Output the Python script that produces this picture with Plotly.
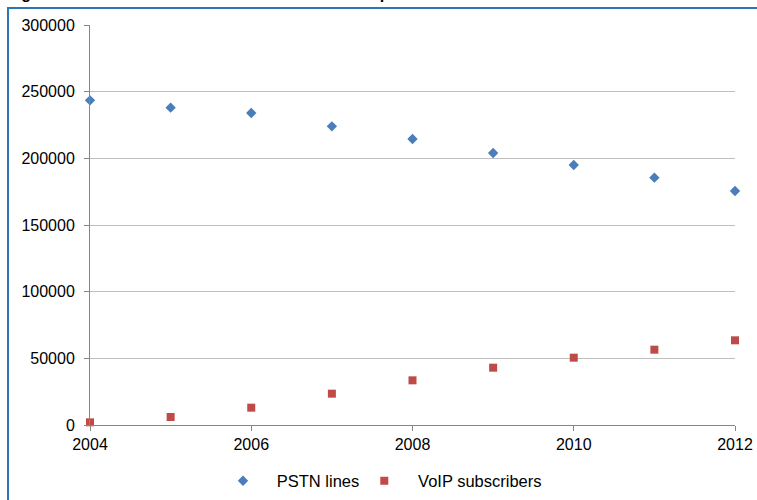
import plotly.graph_objects as go

years = [2004, 2005, 2006, 2007, 2008, 2009, 2010, 2011, 2012]
pstn_lines = [243500, 238000, 234000, 224000, 214500, 204000, 195000, 185500, 175500]
voip_subscribers = [2000, 6000, 13000, 23500, 33500, 43000, 50500, 56500, 63500]
y_ticks = [0, 50000, 100000, 150000, 200000, 250000, 300000]
x_ticks = [2004, 2006, 2008, 2010, 2012]
series_names = ["PSTN lines", "VoIP subscribers"]
title_text = "Figure 3: Number of PSTN lines and VoIP subscriptions"

FONT = "Liberation Sans"
W, H = 757, 500
L, R, T, B = 90, 22, 25, 75
pw, ph = W - L - R, H - T - B
PAD = "\u00a0\u00a0\u00a0"

def px2x(px):
    return (px - L) / pw

def py2y(py):
    return (H - B - py) / ph

fig = go.Figure()
fig.add_trace(go.Scatter(
    x=years, y=pstn_lines, mode="markers", name=PAD + series_names[0],
    marker=dict(symbol="diamond", size=8, color="#4a7ebb"), cliponaxis=False))
fig.add_trace(go.Scatter(
    x=years, y=voip_subscribers, mode="markers", name=PAD + series_names[1],
    marker=dict(symbol="square", size=8, color="#be4b48"), cliponaxis=False))

fig.update_layout(
    width=W, height=H,
    margin=dict(l=L, r=R, t=T, b=B, pad=0, autoexpand=False),
    paper_bgcolor="white", plot_bgcolor="white",
    font=dict(family=FONT, size=16, color="black"),
    showlegend=True,
    legend=dict(orientation="h", x=px2x(223), xanchor="left", y=py2y(481), yanchor="middle",
                font=dict(size=16.5), itemwidth=30, traceorder="normal", tracegroupgap=0),
    xaxis=dict(range=[2004, 2012], tickvals=x_ticks, ticktext=[str(v) for v in x_ticks],
               showgrid=False, zeroline=False, showline=True, linecolor="#868686", linewidth=1,
               ticks="outside", ticklen=5, tickcolor="#868686", tickfont=dict(size=16),
               automargin=False),
    yaxis=dict(range=[0, 300000], tickvals=y_ticks, ticktext=[str(v) for v in y_ticks],
               showgrid=True, gridcolor="#bfbfbf", gridwidth=1, zeroline=False,
               showline=True, linecolor="#868686", linewidth=1,
               ticks="outside", ticklen=5, tickcolor="#868686", tickfont=dict(size=16),
               ticklabelstandoff=6, automargin=False),
    shapes=[dict(type="rect", xref="paper", yref="paper",
                 x0=px2x(8), y0=py2y(510), x1=px2x(770), y1=py2y(8),
                 line=dict(color="#2e75b6", width=2), fillcolor="rgba(0,0,0,0)", layer="below")],
    annotations=[dict(text="<b>" + title_text + "</b>", xref="paper", yref="paper",
                      x=px2x(5), y=py2y(3.5), xanchor="left", yanchor="bottom",
                      showarrow=False, font=dict(size=16, color="black"))],
)

fig.write_html("out.html")
